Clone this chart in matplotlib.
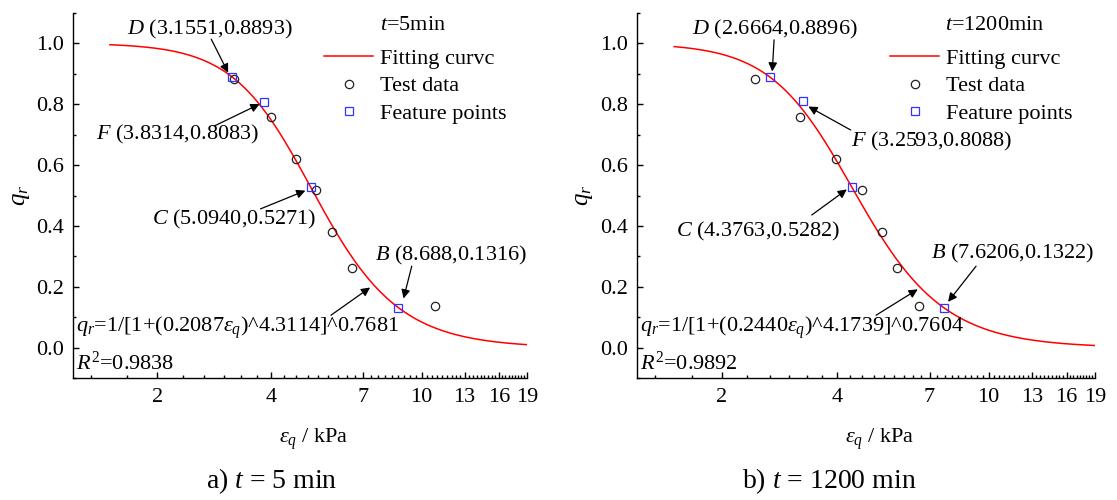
import numpy as np
import matplotlib
matplotlib.use("Agg")
import matplotlib.pyplot as plt
from matplotlib.ticker import FixedLocator, NullFormatter

plt.rcParams['font.family'] = ['Liberation Serif', 'DejaVu Serif']
plt.rcParams['mathtext.fontset'] = 'custom'
plt.rcParams['mathtext.rm'] = 'Liberation Serif'
plt.rcParams['mathtext.it'] = 'Liberation Serif:italic'
plt.rcParams['mathtext.bf'] = 'Liberation Serif:bold'

# ---- data ----
qr_test = [0.883, 0.759, 0.619, 0.517, 0.379, 0.261, 0.137]
eq_test_5 = [3.20, 3.99, 4.67, 5.27, 5.80, 6.55, 10.86]
eq_test_1200 = [2.44, 3.21, 3.98, 4.65, 5.26, 5.77, 6.56]

feat_names = ['D', 'F', 'C', 'B']
feat_x_5 = [3.1551, 3.8314, 5.0940, 8.688]
feat_y_5 = [0.8893, 0.8083, 0.5271, 0.1316]
feat_lbl_5 = ['(3.1551,0.8893)', '(3.8314,0.8083)', '(5.0940,0.5271)', '(8.688,0.1316)']
feat_x_1200 = [2.6664, 3.2593, 4.3763, 7.6206]
feat_y_1200 = [0.8896, 0.8088, 0.5282, 0.1322]
feat_lbl_1200 = ['(2.6664,0.8896)', '(3.2593,0.8088)', '(4.3763,0.5282)', '(7.6206,0.1322)']

# fitting parameters a, n, m of q_r = 1/[1+(a*eq)^n]^m
fit_5 = [0.2087, 4.3114, 0.7681]
fit_1200 = [0.2440, 4.1739, 0.7604]
r2_5 = 0.9838
r2_1200 = 0.9892
fit_range = [1.5, 19]

x_major = [2, 4, 7, 10, 13, 16, 19]

# ---- layout of the labels (data coords) ----
# (text x, text y, ha, arrow tail, arrow head)
lay_5 = {
    'D': (2.75, 1.046, 'center', (2.78, 1.013), (3.08, 0.903)),
    'F': (2.27, 0.699, 'center', (2.83, 0.728), (3.73, 0.800)),
    'C': (3.19, 0.420, 'center', (3.75, 0.456), (4.93, 0.516)),
    'B': (7.54, 0.304, 'left', (9.42, 0.268), (8.96, 0.162)),
}
lay_1200 = {
    'D': (2.76, 1.046, 'center', (2.74, 1.011), (2.71, 0.907)),
    'F': (7.11, 0.677, 'center', (4.35, 0.715), (3.37, 0.792)),
    'C': (2.49, 0.381, 'center', (3.44, 0.436), (4.25, 0.520)),
    'B': (7.05, 0.310, 'left', (9.27, 0.268), (7.83, 0.151)),
}
eq_arrow_5 = ((5.76, 0.107), (7.31, 0.198))
eq_arrow_1200 = ((5.07, 0.107), (6.52, 0.192))

FS = 16


def draw_panel(ax, eq_test, fx, fy, flbl, fit, r2, lay, eq_arrow, t_label, t_x):
    a, n, m = fit
    e = np.geomspace(fit_range[0], fit_range[1], 400)
    q = 1.0 / (1.0 + (a * e) ** n) ** m
    ax.plot(e, q, color='#ff0000', lw=1.1, label='Fitting curvc', zorder=2)
    ax.plot(eq_test, qr_test, 'o', ms=6, mfc='none', mec='#222222', mew=0.9,
            label='Test data', zorder=3)
    ax.plot(fx, fy, 's', ms=5.5, mfc='none', mec='#3333ff', mew=0.9,
            label='Feature points', zorder=4)

    ax.set_xscale('log')
    ax.set_xlim(1.2, 19)
    ax.set_ylim(-0.1, 1.1)
    ax.xaxis.set_major_locator(FixedLocator(x_major))
    ax.set_xticklabels([str(v) for v in x_major])
    minors = [v for v in np.arange(4 / 3, 19, 1 / 3)
              if min(abs(v - mj) for mj in x_major) > 0.05]
    ax.xaxis.set_minor_locator(FixedLocator(minors))
    ax.xaxis.set_minor_formatter(NullFormatter())
    ax.set_yticks([0.0, 0.2, 0.4, 0.6, 0.8, 1.0])
    ax.set_yticks(np.arange(-0.1, 1.15, 0.1), minor=True)
    ax.tick_params(which='both', direction='in', width=1.0, labelsize=FS, pad=7)
    ax.tick_params(which='major', length=4.5)
    ax.tick_params(which='minor', length=2.5)
    for s in ['top', 'right']:
        ax.spines[s].set_visible(False)
    for s in ['left', 'bottom']:
        ax.spines[s].set_linewidth(1.0)

    ax.set_ylabel('$q_r$', fontsize=FS + 2, labelpad=3)
    ax.set_xlabel(r'$\varepsilon_q$ / kPa', fontsize=FS, labelpad=14)
    ax.xaxis.label.set_x(0.53)

    for name, lbl in zip(feat_names, flbl):
        tx, ty, ha, tail, head = lay[name]
        ax.text(tx, ty, '$%s$ %s' % (name, lbl), fontsize=FS, ha=ha, va='center')
        ax.annotate('', xy=head, xytext=tail,
                    arrowprops=dict(arrowstyle='-|>', color='k', lw=0.9,
                                    mutation_scale=13, shrinkA=0, shrinkB=0))

    ax.annotate('', xy=eq_arrow[1], xytext=eq_arrow[0],
                arrowprops=dict(arrowstyle='-|>', color='k', lw=0.9,
                                mutation_scale=13, shrinkA=0, shrinkB=0))
    ax.text(0.007, (0.066 + 0.1) / 1.2,
            r'$q_r$=1/[1+(%.4f$\varepsilon_q$)^%.4f]^%.4f' % (a, n, m),
            transform=ax.transAxes, fontsize=FS, ha='left', va='center')
    ax.text(0.007, (-0.051 + 0.1) / 1.2, r'$R^{\mathrm{2}}$=%.4f' % r2,
            transform=ax.transAxes, fontsize=FS, ha='left', va='center')
    ax.text(t_x, 0.966, '$t$=' + t_label, transform=ax.transAxes,
            fontsize=FS, ha='left', va='center')

    ax.legend(loc='upper left', bbox_to_anchor=(0.553, 0.903), frameon=False,
              fontsize=FS, handlelength=2.2, handletextpad=0.3,
              labelspacing=0.32, borderpad=0, borderaxespad=0)


fig = plt.figure(figsize=(11.17, 5.0), dpi=100)
ax1 = fig.add_axes([0.0656, 0.2434, 0.4062, 0.7312])
ax2 = fig.add_axes([0.5705, 0.2434, 0.4098, 0.7312])

draw_panel(ax1, eq_test_5, feat_x_5, feat_y_5, feat_lbl_5, fit_5, r2_5, lay_5,
           eq_arrow_5, '5min', 0.677)
draw_panel(ax2, eq_test_1200, feat_x_1200, feat_y_1200, feat_lbl_1200, fit_1200,
           r2_1200, lay_1200, eq_arrow_1200, '1200min', 0.673)

fig.text(0.243, 0.038, 'a) $t$ = 5 min', fontsize=20, ha='center', va='center')
fig.text(0.742, 0.038, 'b) $t$ = 1200 min', fontsize=20, ha='center', va='center')

fig.savefig('out.png', dpi=100, facecolor='white')
